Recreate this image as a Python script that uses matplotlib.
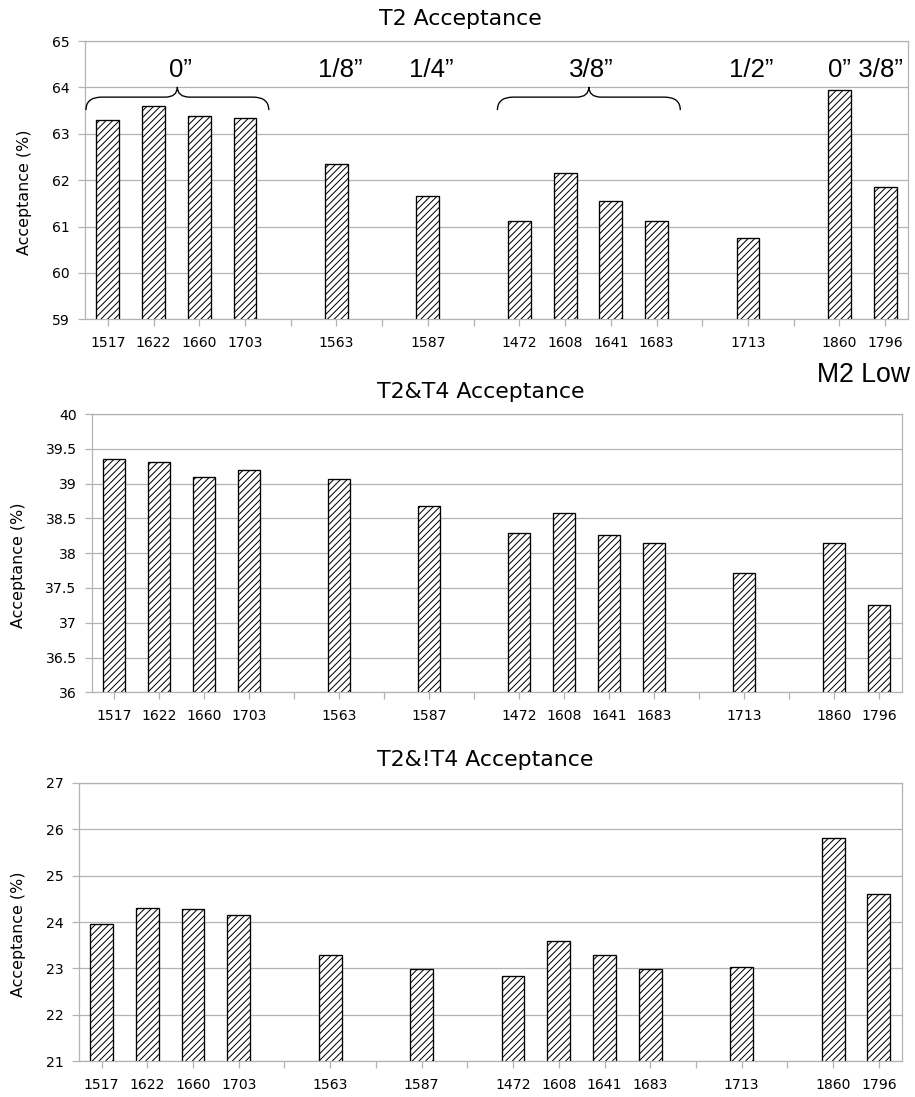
import matplotlib
matplotlib.use("Agg")
import matplotlib.pyplot as plt
import numpy as np
from matplotlib.path import Path
from matplotlib.patches import PathPatch

# runs grouped by thickness, one empty slot between groups
group_runs = [["1517", "1622", "1660", "1703"], ["1563"], ["1587"],
              ["1472", "1608", "1641", "1683"], ["1713"], ["1860", "1796"]]
group_labels = ["0\u201d", "1/8\u201d", "1/4\u201d", "3/8\u201d", "1/2\u201d", "0\u201d 3/8\u201d"]
braced_groups = [0, 3]

t2 = [63.30, 63.60, 63.38, 63.34, 62.35, 61.66, 61.12, 62.16, 61.54, 61.12, 60.75, 63.94, 61.85]
t2_t4 = [39.35, 39.31, 39.10, 39.19, 39.07, 38.68, 38.29, 38.58, 38.26, 38.15, 37.71, 38.14, 37.25]
t2_not_t4 = [23.95, 24.31, 24.29, 24.15, 23.28, 22.99, 22.83, 23.59, 23.30, 22.98, 23.04, 25.81, 24.60]

titles = ["T2 Acceptance", "T2&T4 Acceptance", "T2&!T4 Acceptance"]
ylims = [(59, 65, 1), (36, 40, 0.5), (21, 27, 1)]

W, H, DPI = 915, 1097, 120
GRAY = "#b3b3b3"
plt.rcParams["hatch.linewidth"] = 0.6
plt.rcParams["font.family"] = "DejaVu Sans"

# slot positions
pos, gaps, centers = [], [], []
x = 0
for gi, runs in enumerate(group_runs):
    if gi > 0:
        gaps.append(x)
        x += 1
    start = x
    for r in runs:
        pos.append(x)
        x += 1
    centers.append((start + x - 1) / 2)
n_slots = x
run_labels = [r for g in group_runs for r in g]
slot_labels = [""] * n_slots
for p, r in zip(pos, run_labels):
    slot_labels[p] = r

fig = plt.figure(figsize=(W / DPI, H / DPI), dpi=DPI)


def fx(px):
    return px / W


def fy(py):
    return 1 - py / H


# axes boxes in pixels: left, top, right, bottom
boxes = [(85, 41, 908, 319.3), (91.7, 414, 901.7, 692.3), (78.7, 782.7, 901.7, 1061.3)]
title_pos = [(379, 25), (377, 398), (377, 766)]
ylabel_x = [25, 18.5, 18.5]
series = [t2, t2_t4, t2_not_t4]

axes = []
for i, (l, t, r, b) in enumerate(boxes):
    ax = fig.add_axes([fx(l), fy(b), fx(r) - fx(l), (b - t) / H])
    lo, hi, step = ylims[i]
    ax.bar(pos, series[i], width=0.5, color="white", edgecolor="black",
           linewidth=0.8, hatch="//////", zorder=3)
    ax.set_xlim(-0.5, n_slots - 0.5)
    ax.set_ylim(lo, hi)
    yt = np.arange(lo, hi + step / 2, step)
    ax.set_yticks(yt)
    ax.set_yticklabels(["{:g}".format(v) for v in yt], fontsize=8.4)
    ax.set_xticks(range(n_slots))
    ax.set_xticklabels(slot_labels, fontsize=8.4)
    ax.yaxis.grid(True, color=GRAY, linewidth=0.75)
    ax.set_axisbelow(True)
    for s in ax.spines.values():
        s.set_color(GRAY)
        s.set_linewidth(0.75)
    ax.tick_params(axis="both", color=GRAY, length=4, width=0.75)
    ax.tick_params(axis="x", pad=6)
    ax.tick_params(axis="y", pad=5)
    fig.text(fx(title_pos[i][0]), fy(title_pos[i][1]), titles[i],
             fontsize=13.2, ha="left", va="baseline")
    fig.text(fx(ylabel_x[i]), fy((t + b) / 2 + 12), "Acceptance (%)",
             fontsize=9.5, rotation=90, ha="center", va="center")
    axes.append(ax)

# thickness labels and braces on the top chart
ax = axes[0]
for c, lab in zip(centers, group_labels):
    ax.text(c + 0.08, 64.22, lab, fontsize=15.5, family="Liberation Sans",
            ha="center", va="baseline")


def brace(ax, x0, x1, y_end, y_body, y_tip, r=0.35, rt=0.27):
    xm = (x0 + x1) / 2
    verts = [(x0, y_end), (x0, y_body), (x0 + r, y_body),
             (xm - rt, y_body), (xm, y_body), (xm, y_tip),
             (xm, y_body), (xm + rt, y_body),
             (x1 - r, y_body), (x1, y_body), (x1, y_end)]
    codes = [Path.MOVETO, Path.CURVE3, Path.CURVE3,
             Path.LINETO, Path.CURVE3, Path.CURVE3,
             Path.CURVE3, Path.CURVE3,
             Path.LINETO, Path.CURVE3, Path.CURVE3]
    ax.add_patch(PathPatch(Path(verts, codes), fill=False, lw=0.8,
                           edgecolor="black", zorder=4, clip_on=False))


for gi in braced_groups:
    first = sum(len(g) for g in group_runs[:gi])
    g_pos = pos[first:first + len(group_runs[gi])]
    brace(ax, g_pos[0] - 0.48, g_pos[-1] + 0.52, 63.51, 63.79, 64.01)

fig.text(fx(910), fy(382), "M2 Low", fontsize=16, family="Liberation Sans",
         ha="right", va="baseline")

fig.savefig("out.png", dpi=DPI)
